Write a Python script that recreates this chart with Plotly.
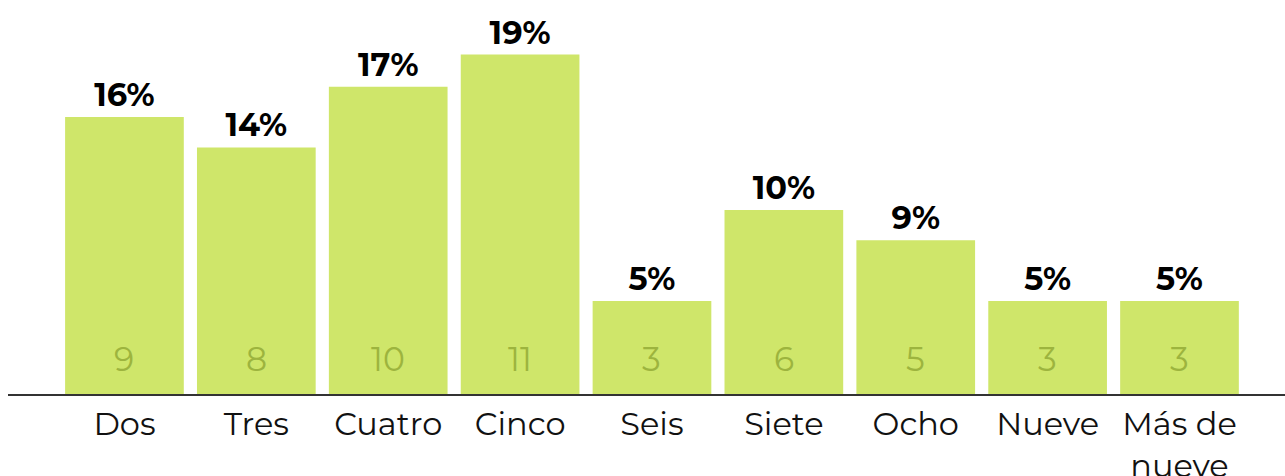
import plotly.graph_objects as go

categories = ["Dos", "Tres", "Cuatro", "Cinco", "Seis", "Siete", "Ocho", "Nueve", "Más de<br>nueve"]
counts = [9, 8, 10, 11, 3, 6, 5, 3, 3]
percent_values = [15.5, 13.8, 17.2, 19.0, 5.2, 10.3, 8.6, 5.2, 5.2]
percent_labels = ["16%", "14%", "17%", "19%", "5%", "10%", "9%", "5%", "5%"]

FONT = "Montserrat, Open Sans, sans-serif"
BAR_COLOR = "#cfe66a"
COUNT_COLOR = "#9db43e"

fig = go.Figure()
fig.add_trace(go.Bar(
    x=categories,
    y=percent_values,
    marker=dict(color=BAR_COLOR, line=dict(width=0)),
    text=percent_labels,
    textposition="outside",
    textfont=dict(family=FONT, size=32, color="#000000", weight=700),
    constraintext="none",
    cliponaxis=False,
    hoverinfo="skip",
))

for cat, c in zip(categories, counts):
    fig.add_annotation(
        x=cat, y=0, yref="y", xref="x",
        text=str(c), showarrow=False,
        yanchor="middle", yshift=35,
        font=dict(family=FONT, size=33, color=COUNT_COLOR, weight=400),
    )

fig.update_layout(
    width=1285, height=476,
    margin=dict(l=8, r=0, t=0, b=82),
    plot_bgcolor="white", paper_bgcolor="white",
    bargap=0.1,
    showlegend=False,
    xaxis=dict(
        range=[-0.883, 8.80],
        automargin=False,
        showgrid=False, zeroline=False,
        showline=True, linecolor="#333333", linewidth=2,
        ticks="", ticklabelstandoff=1,
        tickfont=dict(family=FONT, size=32, color="#111111"),
        fixedrange=True,
    ),
    yaxis=dict(
        range=[0, 22.05], visible=False, showgrid=False, zeroline=False,
        fixedrange=True, automargin=False,
    ),
)

fig.write_html(
    "out.html",
    config={"displayModeBar": False},
    post_script="document.body.style.margin='0';document.body.style.overflow='hidden';",
)
